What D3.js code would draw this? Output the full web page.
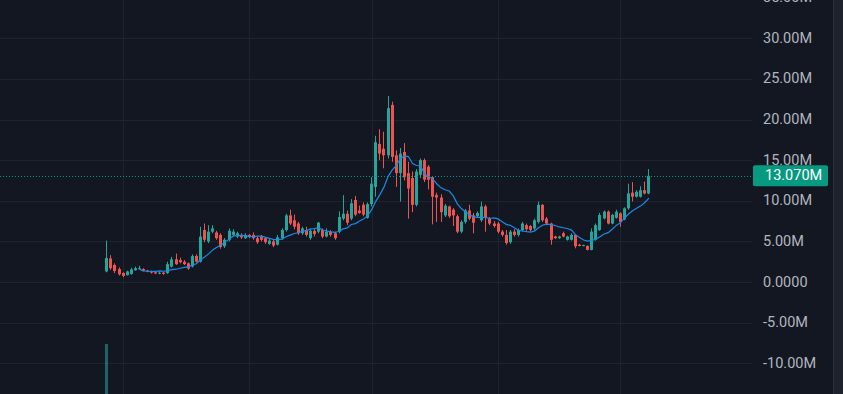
<!DOCTYPE html>
<html>
<head>
<meta charset="utf-8">
<script src="https://cdn.jsdelivr.net/npm/d3@7"></script>
<style>
  html, body { margin: 0; padding: 0; background: #131722; }
  svg { display: block; }
</style>
</head>
<body>
<svg id="chart" width="843" height="394"></svg>
<script>
// OHLC values in millions, one entry per candle
const opens = [
  1.3, 2.9, 2.1, 1.6, 1.1, 0.85, 1.0, 1.45, 1.65, 1.6,
  1.4, 1.3, 1.2, 1.05, 1.15, 1.1, 1.9, 2.8, 2.7, 2.5,
  2.3, 1.9, 3.2, 2.5, 6.4, 5.0, 6.2, 6.1, 5.8, 4.4,
  5.2, 5.8, 5.6, 5.8, 5.4, 5.8, 5.8, 5.4, 5.6, 5.4,
  4.7, 5.0, 4.6, 5.4, 6.4, 8.2, 7.6, 7.2, 6.0, 6.4,
  5.4, 6.3, 6.2, 6.4, 5.6, 6.2, 6.0, 6.2, 7.8, 8.4,
  7.8, 10.1, 8.8, 9.5, 7.9, 9.6, 11.7, 17.0, 16.4, 15.6,
  21.8, 15.6, 13.4, 16.0, 13.4, 12.8, 9.5, 13.2, 15.0, 14.2,
  12.9, 10.7, 10.4, 8.2, 9.3, 8.9, 8.1, 6.2, 7.4, 8.8,
  8.2, 8.1, 7.6, 9.3, 7.8, 7.2, 7.2, 6.2, 5.8, 4.9,
  6.2, 5.8, 6.4, 7.0, 6.9, 6.6, 7.4, 9.5, 7.8, 7.2,
  5.6, 5.4, 6.0, 5.2, 5.2, 5.8, 4.6, 4.45, 4.45, 3.95,
  5.2, 6.4, 7.84, 8.66, 7.2, 7.9, 8.45, 7.7, 9.07, 11.0,
  10.5, 10.5, 11.3, 10.9
];
const highs = [
  5.1, 3.3, 2.3, 1.8, 1.2, 1.4, 1.75, 1.9, 2.0, 1.7,
  1.5, 1.4, 1.3, 1.3, 1.25, 2.5, 3.1, 3.5, 3.0, 2.7,
  2.4, 3.4, 3.4, 6.8, 7.2, 7.0, 7.0, 6.3, 6.0, 5.4,
  6.6, 6.5, 6.2, 6.0, 6.0, 5.9, 6.1, 5.6, 5.8, 5.5,
  5.3, 5.2, 5.8, 6.6, 8.4, 8.9, 8.3, 7.4, 6.8, 6.8,
  6.5, 6.6, 7.4, 6.6, 6.6, 6.4, 6.2, 8.7, 10.7, 8.8,
  10.2, 10.6, 9.4, 9.8, 9.8, 12.9, 18.0, 18.8, 18.5, 22.9,
  22.2, 16.2, 16.5, 17.1, 14.8, 13.6, 13.9, 15.2, 15.2, 14.4,
  13.0, 11.0, 10.8, 9.6, 9.4, 9.1, 8.3, 7.6, 9.0, 9.5,
  8.5, 8.7, 9.9, 9.5, 8.0, 7.5, 7.4, 6.4, 6.4, 6.4,
  6.5, 6.6, 7.4, 7.2, 7.0, 7.8, 9.9, 9.6, 8.0, 7.3,
  5.7, 5.7, 6.2, 5.7, 6.0, 5.9, 4.7, 4.6, 4.5, 6.6,
  7.2, 8.5, 8.8, 8.8, 8.4, 8.9, 8.6, 9.2, 12.1, 12.3,
  11.3, 11.8, 12.35, 13.9
];
const lows = [
  1.2, 1.5, 1.1, 0.8, 0.6, 0.8, 0.9, 1.4, 1.55, 1.3,
  1.2, 1.05, 1.0, 0.95, 0.9, 1.0, 1.8, 2.1, 2.3, 2.1,
  1.5, 1.8, 2.4, 2.4, 4.9, 4.8, 6.0, 5.2, 4.1, 4.2,
  5.0, 5.6, 5.4, 5.3, 5.3, 5.4, 5.2, 4.7, 5.0, 4.7,
  4.6, 4.3, 4.5, 5.2, 6.2, 7.0, 6.5, 5.8, 5.8, 5.6,
  5.2, 5.6, 6.0, 5.4, 5.5, 5.6, 5.2, 6.0, 7.6, 7.0,
  7.6, 8.1, 8.4, 8.1, 7.8, 9.3, 10.5, 15.0, 14.0, 15.2,
  14.8, 11.7, 9.9, 12.5, 7.8, 8.6, 9.3, 12.8, 12.3, 11.4,
  7.1, 7.4, 7.4, 8.0, 7.9, 6.9, 6.0, 6.0, 7.2, 7.6,
  6.0, 7.9, 7.4, 6.2, 7.0, 6.7, 6.0, 5.6, 4.6, 4.7,
  5.6, 5.6, 6.2, 6.3, 6.2, 6.4, 7.2, 7.4, 7.0, 4.6,
  5.3, 5.3, 5.5, 5.1, 5.1, 4.15, 4.4, 4.4, 3.9, 3.9,
  5.1, 6.3, 7.7, 7.1, 7.1, 7.8, 6.8, 7.6, 8.9, 9.9,
  10.4, 10.4, 10.8, 10.8
];
const closes = [
  2.95, 1.7, 1.35, 0.95, 0.75, 1.3, 1.55, 1.7, 1.7, 1.4,
  1.25, 1.15, 1.05, 1.15, 1.0, 2.2, 2.8, 2.2, 2.45, 2.2,
  1.65, 3.2, 2.5, 5.6, 5.2, 6.2, 6.6, 5.4, 4.3, 5.2,
  6.3, 6.2, 6.0, 5.5, 5.8, 5.6, 5.4, 4.9, 5.2, 4.9,
  5.1, 4.5, 5.5, 6.4, 8.2, 7.2, 6.8, 6.0, 6.6, 5.8,
  6.3, 5.9, 7.3, 5.6, 6.2, 5.8, 5.4, 8.0, 8.4, 7.3,
  9.7, 8.3, 8.5, 8.3, 9.6, 12.1, 17.2, 15.8, 15.6, 21.4,
  15.4, 13.4, 15.8, 12.9, 11.5, 9.5, 13.6, 15.0, 12.6, 12.6,
  10.5, 10.4, 8.6, 9.4, 8.1, 8.2, 6.2, 7.4, 8.8, 7.8,
  7.3, 8.5, 9.3, 7.9, 7.2, 6.9, 6.2, 5.8, 4.8, 6.2,
  5.8, 6.4, 7.2, 6.5, 6.4, 7.6, 9.5, 7.6, 7.2, 5.2,
  5.4, 5.6, 5.6, 5.6, 5.8, 4.4, 4.45, 4.55, 3.95, 6.2,
  7.0, 8.25, 8.66, 7.2, 8.25, 8.66, 7.4, 9.07, 10.9, 10.5,
  11.1, 11.3, 10.9, 13.07
];
// volume (millions of shares); only the first bar reaches into the visible crop
const volumes = [48];

const lastPrice = 13.07;
const yTicks = [-10, -5, 0, 5, 10, 15, 20, 25, 30, 35];
const timeGridIdx = [4, 35, 65, 96, 126];
const maPeriod = 9;

const W = 843, H = 394;
const paneRight = 752;   // end of the plotting pane
const axisRight = 833;   // end of the price scale

const upColor = '#26a69a';
const downColor = '#ef5350';

const svg = d3.select('#chart');

// Backgrounds
svg.append('rect').attr('width', W).attr('height', H).attr('fill', '#131722');
svg.append('rect')
  .attr('x', axisRight).attr('y', 0)
  .attr('width', W - axisRight).attr('height', H)
  .attr('fill', '#1e222d');
svg.append('line')
  .attr('x1', axisRight + 0.5).attr('x2', axisRight + 0.5)
  .attr('y1', 0).attr('y2', H)
  .attr('stroke', '#2a2e39');

// Scales
const n = closes.length;
const x = d3.scaleBand()
  .domain(d3.range(n))
  .range([105.27, 650.4])
  .paddingInner(0.26);
const cx = i => x(i) + x.bandwidth() / 2;

const y = d3.scaleLinear()
  .domain([-13.78, 34.71])
  .range([H, 0]);

const vy = d3.scaleLinear()
  .domain([0, volumes[0]])
  .range([432, 344]);

// Grid
const grid = svg.append('g').attr('class', 'grid');
grid.selectAll('.hgrid')
  .data(yTicks)
  .enter()
  .append('line')
  .attr('class', 'hgrid')
  .attr('x1', 0).attr('x2', paneRight)
  .attr('y1', d => Math.round(y(d)) + 0.5)
  .attr('y2', d => Math.round(y(d)) + 0.5)
  .attr('stroke', '#1f232e');

grid.selectAll('.vgrid')
  .data(timeGridIdx)
  .enter()
  .append('line')
  .attr('class', 'vgrid')
  .attr('x1', d => Math.round(cx(d)) + 0.5)
  .attr('x2', d => Math.round(cx(d)) + 0.5)
  .attr('y1', 0).attr('y2', H)
  .attr('stroke', '#1f232e');

// Volume bars
svg.selectAll('.vol')
  .data(volumes)
  .enter()
  .append('rect')
  .attr('class', 'vol')
  .attr('x', (d, i) => Math.round(cx(i) - 1.5))
  .attr('width', 3)
  .attr('y', d => vy(d))
  .attr('height', d => vy(0) - vy(d))
  .attr('fill', upColor)
  .attr('opacity', 0.55);

// Candles
const candles = d3.range(n).map(i => ({
  i, o: opens[i], h: highs[i], l: lows[i], c: closes[i]
}));

const cg = svg.append('g').attr('class', 'candles');
const candle = cg.selectAll('g')
  .data(candles)
  .enter()
  .append('g')
  .attr('fill', d => d.c >= d.o ? upColor : downColor);

candle.append('rect')
  .attr('x', d => Math.round(cx(d.i) - 0.5))
  .attr('width', 1)
  .attr('y', d => y(d.h))
  .attr('height', d => y(d.l) - y(d.h));

candle.append('rect')
  .attr('x', d => Math.round(cx(d.i) - 1.5))
  .attr('width', 3)
  .attr('y', d => y(Math.max(d.o, d.c)))
  .attr('height', d => Math.max(1, Math.abs(y(d.o) - y(d.c))));

// Moving average of closes
const ma = d3.range(maPeriod - 1, n).map(i => ({
  i, v: d3.mean(closes.slice(i - maPeriod + 1, i + 1))
}));
svg.append('path')
  .datum(ma)
  .attr('fill', 'none')
  .attr('stroke', '#1e88e5')
  .attr('stroke-width', 1.2)
  .attr('d', d3.line().x(d => cx(d.i)).y(d => y(d.v)));

// Last price line
svg.append('line')
  .attr('x1', 0).attr('x2', paneRight)
  .attr('y1', Math.round(y(lastPrice)) + 0.5)
  .attr('y2', Math.round(y(lastPrice)) + 0.5)
  .attr('stroke', '#089981')
  .attr('stroke-dasharray', '1,2');

// Price scale labels
const fmt = v => v === 0 ? '0.0000' : v.toFixed(2) + 'M';
svg.selectAll('.ytick')
  .data(yTicks)
  .enter()
  .append('text')
  .attr('class', 'ytick')
  .attr('x', 763)
  .attr('y', d => y(d))
  .attr('dominant-baseline', 'central')
  .attr('fill', '#b2b5be')
  .style('font-family', 'Roboto, sans-serif')
  .style('font-size', '14.5px')
  .text(fmt);

// Last price badge
const py = y(lastPrice);
svg.append('rect')
  .attr('x', 753).attr('y', py - 10.5)
  .attr('width', 75).attr('height', 21)
  .attr('rx', 2)
  .attr('fill', '#089981');
svg.append('text')
  .attr('x', 765)
  .attr('y', py)
  .attr('dominant-baseline', 'central')
  .attr('fill', '#ffffff')
  .style('font-family', 'Roboto, sans-serif')
  .style('font-size', '14.5px')
  .text(lastPrice.toFixed(3) + 'M');
</script>
</body>
</html>
